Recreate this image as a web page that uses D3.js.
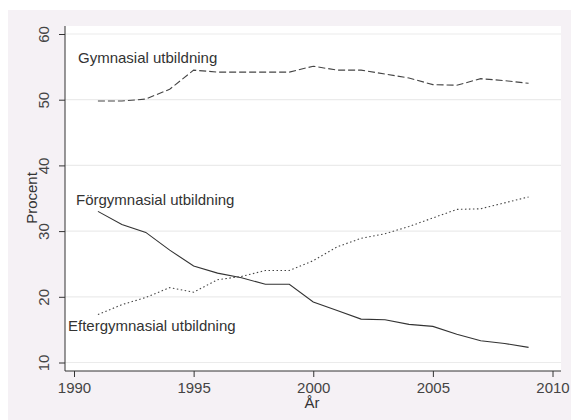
<!DOCTYPE html>
<html><head><meta charset="utf-8">
<script src="https://cdnjs.cloudflare.com/ajax/libs/d3/7.8.5/d3.min.js"></script>
<style>body{margin:0;background:#fff;}svg{display:block;}</style>
</head><body>
<script>
const years = [1991,1992,1993,1994,1995,1996,1997,1998,1999,2000,2001,2002,2003,2004,2005,2006,2007,2008,2009];
const gymnasial = [49.8,49.8,50.1,51.6,54.5,54.2,54.2,54.2,54.2,55.1,54.5,54.5,53.9,53.3,52.3,52.2,53.2,52.9,52.5];
const forgymnasial = [33.0,31.0,29.8,27.1,24.7,23.6,22.9,21.9,21.9,19.2,17.9,16.6,16.5,15.8,15.5,14.3,13.3,12.9,12.3];
const eftergymnasial = [17.3,18.8,19.9,21.4,20.7,22.6,23.1,24.0,24.0,25.5,27.6,28.9,29.6,30.7,32.0,33.3,33.4,34.3,35.2];
const xTicks = [1990,1995,2000,2005,2010];
const yTicks = [10,20,30,40,50,60];
const seriesLabels = ["Gymnasial utbildning","Förgymnasial utbildning","Eftergymnasial utbildning"];

(function(){
const W = 571, H = 420;
const svg = d3.select("body").append("svg").attr("width", W).attr("height", H);
const font = "'Liberation Sans', Arial, sans-serif";
const fs = "15px";

svg.append("rect").attr("x",8).attr("y",10).attr("width",W-8).attr("height",H-10).attr("fill","#f5f1f5");

const x = d3.scaleLinear().domain([1990,2010]).range([74,552.5]);
const y = d3.scaleLinear().domain([10,60]).range([362.5,34]);
const pL = 65, pR = 561, pT = 26, pB = 371;

svg.append("rect").attr("x",pL).attr("y",pT).attr("width",pR-pL).attr("height",pB-pT).attr("fill","#fff");

svg.append("g").selectAll("line").data(yTicks).join("line")
  .attr("x1",pL).attr("x2",pR).attr("y1",d=>y(d)).attr("y2",d=>y(d))
  .attr("stroke","#ebebeb").attr("stroke-width",1.2);

const yAxis = d3.axisLeft(y).tickValues(yTicks).tickSize(6).tickPadding(6).tickFormat(d3.format("d"));
const gy = svg.append("g").attr("transform",`translate(${pL},0)`).call(yAxis);
gy.select(".domain").attr("d",`M0,${pT}V${pB}`).attr("stroke","#333");
gy.selectAll(".tick line").attr("stroke","#333");
gy.selectAll(".tick text").attr("transform","rotate(-90)").attr("x",0).attr("y",-21)
  .attr("text-anchor","middle").attr("dy","0.35em")
  .style("font-family",font).style("font-size",fs).attr("fill","#444");

const xAxis = d3.axisBottom(x).tickValues(xTicks).tickSize(6).tickPadding(5).tickFormat(d3.format("d"));
const gx = svg.append("g").attr("transform",`translate(0,${pB})`).call(xAxis);
gx.select(".domain").attr("d",`M${pL},0H${pR}`).attr("stroke","#333");
gx.selectAll(".tick line").attr("stroke","#333");
gx.selectAll(".tick text").style("font-family",font).style("font-size",fs).attr("fill","#444");

svg.append("text").attr("x",312).attr("y",408).attr("text-anchor","middle")
  .style("font-family",font).style("font-size",fs).attr("fill","#333").text("År");
svg.append("text").attr("transform","translate(37,198) rotate(-90)").attr("text-anchor","middle")
  .style("font-family",font).style("font-size",fs).attr("fill","#333").text("Procent");

const line = d3.line().x((d,i)=>x(years[i])).y(d=>y(d));
svg.append("path").datum(gymnasial).attr("d",line).attr("fill","none")
  .attr("stroke","#444").attr("stroke-width",1.1).attr("stroke-dasharray","7,3");
svg.append("path").datum(forgymnasial).attr("d",line).attr("fill","none")
  .attr("stroke","#333").attr("stroke-width",1.1);
svg.append("path").datum(eftergymnasial).attr("d",line).attr("fill","none")
  .attr("stroke","#444").attr("stroke-width",1.1).attr("stroke-dasharray","1.5,2.5");

const labelPos = [[78,63],[76,205],[68,331]];
svg.append("g").selectAll("text").data(seriesLabels).join("text")
  .attr("x",(d,i)=>labelPos[i][0]).attr("y",(d,i)=>labelPos[i][1])
  .style("font-family",font).style("font-size",fs).attr("fill","#333").text(d=>d);
})();
</script>
</body></html>
